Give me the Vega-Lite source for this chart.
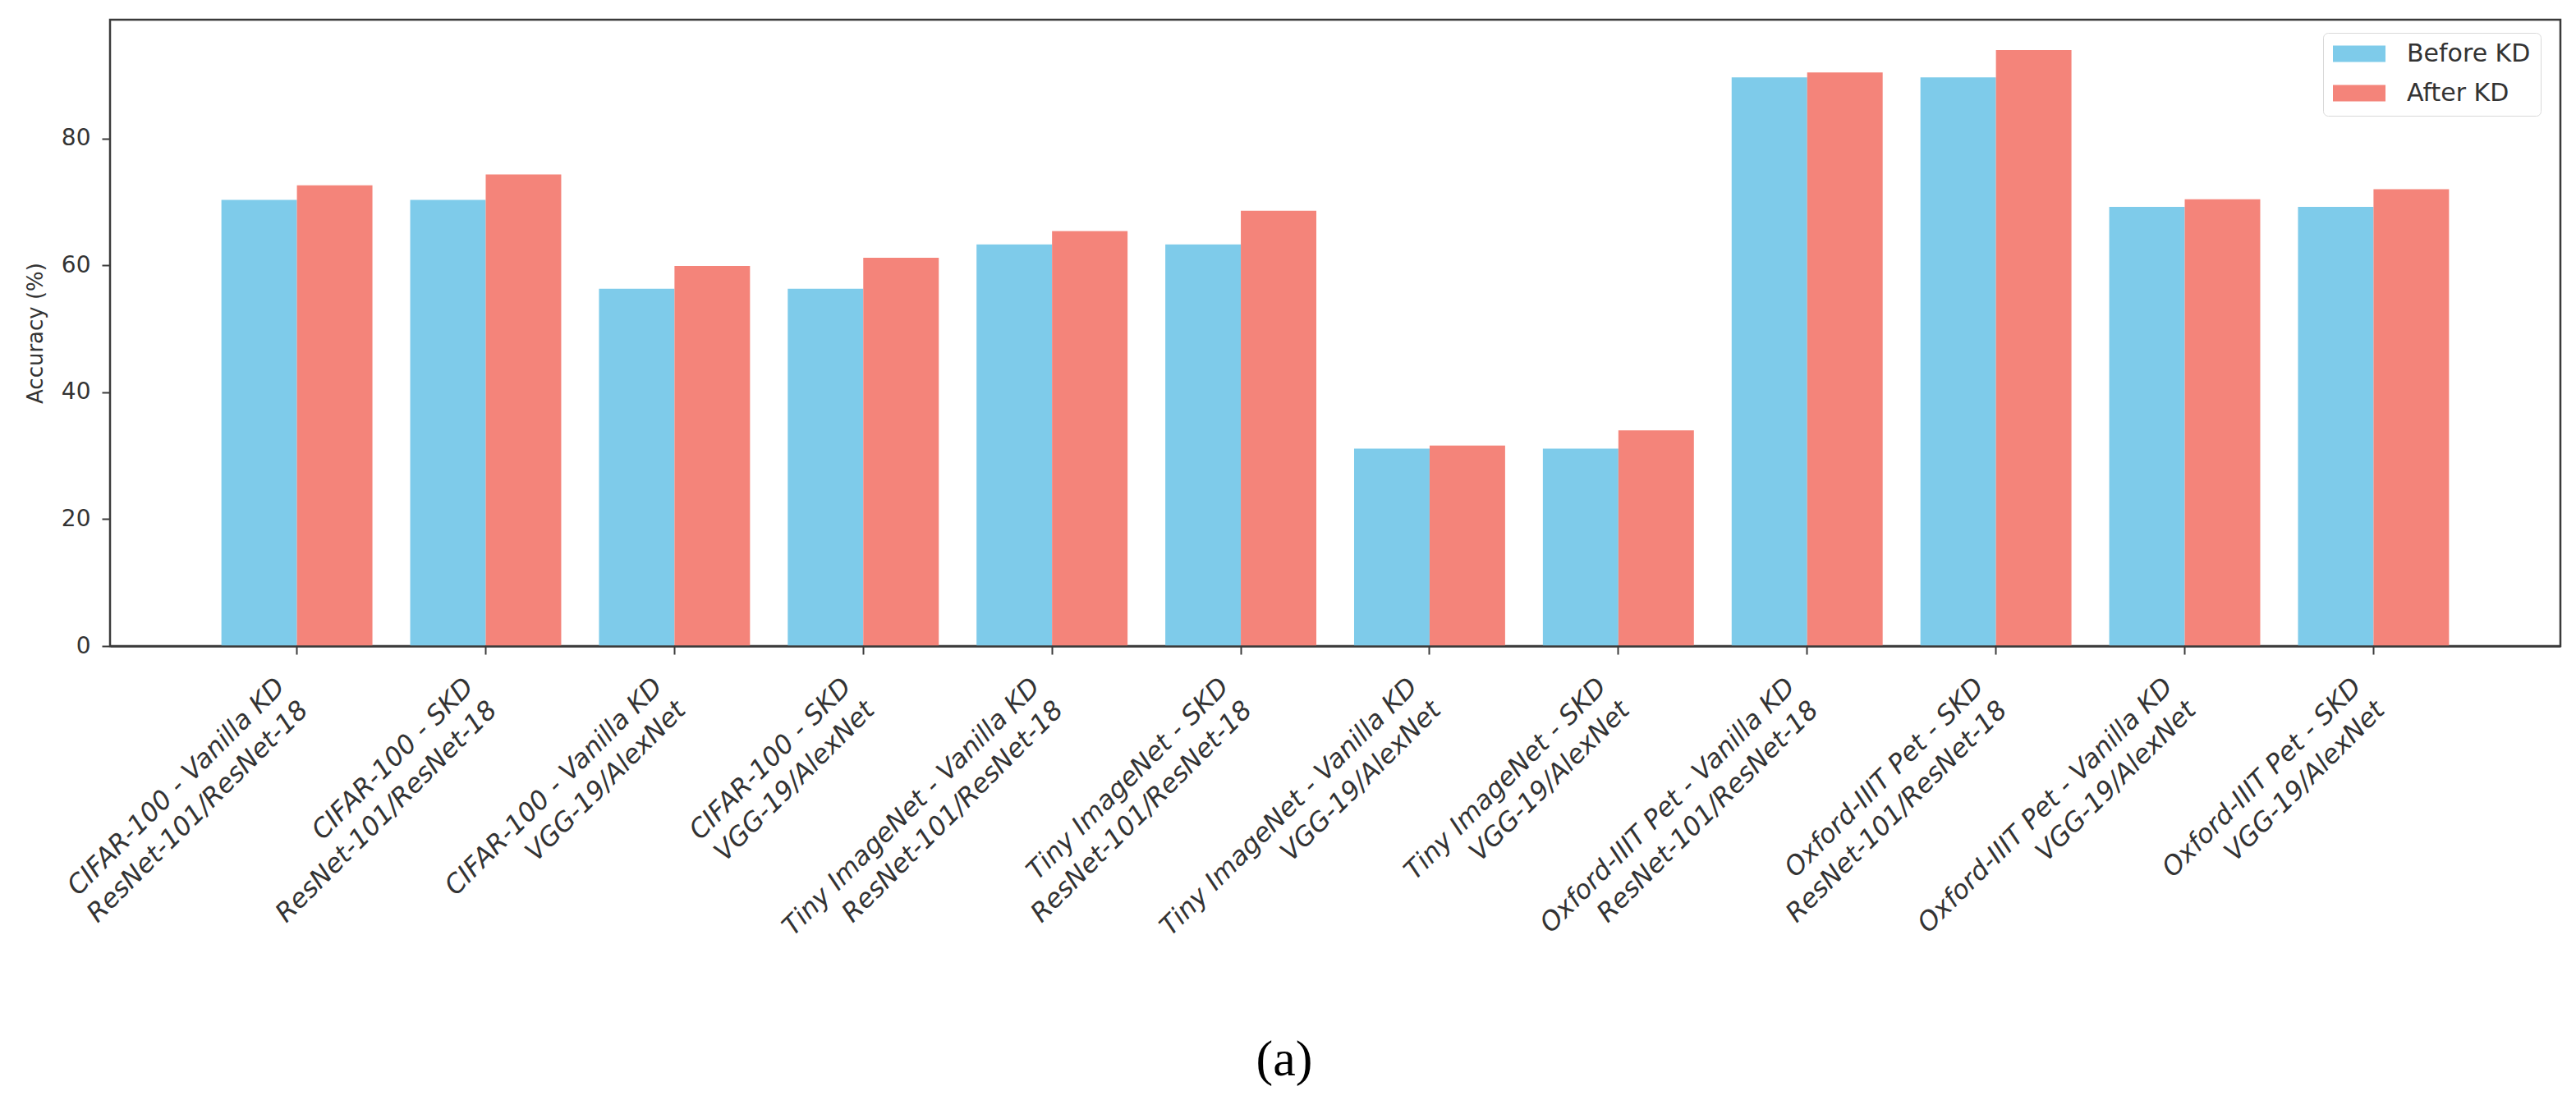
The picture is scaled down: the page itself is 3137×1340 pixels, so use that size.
{
  "$schema": "https://vega.github.io/schema/vega-lite/v6.json",
  "width": 2984,
  "height": 763,
  "autosize": {"type": "none"},
  "padding": {"left": 134, "top": 24, "right": 19, "bottom": 553},
  "background": "white",
  "config": {
    "view": {"stroke": "#3a3a3a", "strokeWidth": 2.5},
    "font": "DejaVu Sans"
  },
  "title": {
    "text": "(a)",
    "orient": "bottom",
    "font": "Liberation Serif",
    "fontSize": 62,
    "fontWeight": "normal",
    "color": "#000000",
    "anchor": "middle",
    "dx": -62,
    "offset": 88
  },
  "data": {
    "values": [
      {"setting": "CIFAR-100 - Vanilla KD\nResNet-101/ResNet-18", "phase": "Before KD", "accuracy": 70.3},
      {"setting": "CIFAR-100 - Vanilla KD\nResNet-101/ResNet-18", "phase": "After KD", "accuracy": 72.6},
      {"setting": "CIFAR-100 - SKD\nResNet-101/ResNet-18", "phase": "Before KD", "accuracy": 70.3},
      {"setting": "CIFAR-100 - SKD\nResNet-101/ResNet-18", "phase": "After KD", "accuracy": 74.3},
      {"setting": "CIFAR-100 - Vanilla KD\nVGG-19/AlexNet", "phase": "Before KD", "accuracy": 56.3},
      {"setting": "CIFAR-100 - Vanilla KD\nVGG-19/AlexNet", "phase": "After KD", "accuracy": 59.9},
      {"setting": "CIFAR-100 - SKD\nVGG-19/AlexNet", "phase": "Before KD", "accuracy": 56.3},
      {"setting": "CIFAR-100 - SKD\nVGG-19/AlexNet", "phase": "After KD", "accuracy": 61.2},
      {"setting": "Tiny ImageNet - Vanilla KD\nResNet-101/ResNet-18", "phase": "Before KD", "accuracy": 63.3},
      {"setting": "Tiny ImageNet - Vanilla KD\nResNet-101/ResNet-18", "phase": "After KD", "accuracy": 65.4},
      {"setting": "Tiny ImageNet - SKD\nResNet-101/ResNet-18", "phase": "Before KD", "accuracy": 63.3},
      {"setting": "Tiny ImageNet - SKD\nResNet-101/ResNet-18", "phase": "After KD", "accuracy": 68.6},
      {"setting": "Tiny ImageNet - Vanilla KD\nVGG-19/AlexNet", "phase": "Before KD", "accuracy": 31.1},
      {"setting": "Tiny ImageNet - Vanilla KD\nVGG-19/AlexNet", "phase": "After KD", "accuracy": 31.6},
      {"setting": "Tiny ImageNet - SKD\nVGG-19/AlexNet", "phase": "Before KD", "accuracy": 31.1},
      {"setting": "Tiny ImageNet - SKD\nVGG-19/AlexNet", "phase": "After KD", "accuracy": 34.0},
      {"setting": "Oxford-IIIT Pet - Vanilla KD\nResNet-101/ResNet-18", "phase": "Before KD", "accuracy": 89.6},
      {"setting": "Oxford-IIIT Pet - Vanilla KD\nResNet-101/ResNet-18", "phase": "After KD", "accuracy": 90.4},
      {"setting": "Oxford-IIIT Pet - SKD\nResNet-101/ResNet-18", "phase": "Before KD", "accuracy": 89.6},
      {"setting": "Oxford-IIIT Pet - SKD\nResNet-101/ResNet-18", "phase": "After KD", "accuracy": 93.9},
      {"setting": "Oxford-IIIT Pet - Vanilla KD\nVGG-19/AlexNet", "phase": "Before KD", "accuracy": 69.2},
      {"setting": "Oxford-IIIT Pet - Vanilla KD\nVGG-19/AlexNet", "phase": "After KD", "accuracy": 70.4},
      {"setting": "Oxford-IIIT Pet - SKD\nVGG-19/AlexNet", "phase": "Before KD", "accuracy": 69.2},
      {"setting": "Oxford-IIIT Pet - SKD\nVGG-19/AlexNet", "phase": "After KD", "accuracy": 72.0}
    ]
  },
  "mark": {"type": "bar"},
  "encoding": {
    "x": {
      "field": "setting",
      "type": "nominal",
      "sort": null,
      "scale": {"paddingInner": 0.2, "paddingOuter": 0.59},
      "axis": {
        "title": null,
        "zindex": 1,
        "domain": true,
        "domainColor": "#3a3a3a",
        "domainWidth": 2.5,
        "ticks": true,
        "tickSize": 10,
        "tickWidth": 2,
        "tickColor": "#3a3a3a",
        "labelAngle": -45,
        "labelAlign": "right",
        "labelBaseline": "bottom",
        "labelPadding": 46,
        "labelOffset": -8,
        "labelFontSize": 32,
        "labelFontStyle": "italic",
        "labelColor": "#333333",
        "labelLineHeight": 40,
        "labelOverlap": false,
        "labelLimit": 0,
        "labelExpr": "split(datum.label, '\\n')"
      }
    },
    "xOffset": {
      "field": "phase",
      "type": "nominal",
      "sort": ["Before KD", "After KD"],
      "scale": {"paddingInner": 0, "paddingOuter": 0}
    },
    "y": {
      "field": "accuracy",
      "type": "quantitative",
      "scale": {"domain": [0, 98.7], "nice": false},
      "axis": {
        "title": "Accuracy (%)",
        "titleFontSize": 26,
        "titleFontWeight": "normal",
        "titleColor": "#333333",
        "titlePadding": 18,
        "values": [0, 20, 40, 60, 80],
        "grid": false,
        "domain": false,
        "zindex": 1,
        "tickSize": 10,
        "tickWidth": 2,
        "tickColor": "#3a3a3a",
        "labelFontSize": 28,
        "labelColor": "#333333",
        "labelPadding": 14
      }
    },
    "color": {
      "field": "phase",
      "type": "nominal",
      "scale": {"domain": ["Before KD", "After KD"], "range": ["#7ecbea", "#f4847a"]},
      "legend": {
        "title": null,
        "orient": "none",
        "legendX": 2695,
        "legendY": 16,
        "symbolType": "M-1,-0.3125H1V0.3125H-1Z",
        "symbolSize": 4096,
        "symbolStrokeWidth": 0,
        "symbolOpacity": 1,
        "labelFontSize": 30,
        "labelColor": "#333333",
        "labelOffset": 26,
        "padding": 12,
        "strokeColor": "#d9d9d9",
        "fillColor": "white",
        "cornerRadius": 6,
        "rowPadding": 17,
        "clipHeight": 27
      }
    }
  }
}
